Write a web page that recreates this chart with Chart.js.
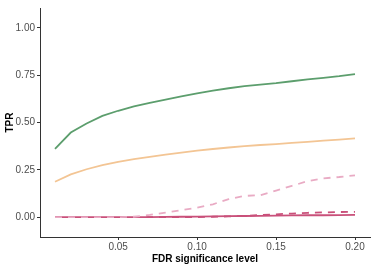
<!DOCTYPE html>
<html>
<head>
<meta charset="utf-8">
<script src="https://cdn.jsdelivr.net/npm/chart.js@4"></script>
<style>
  html, body { margin: 0; padding: 0; background: #fff; }
  #wrap { width: 374px; height: 267px; }
</style>
</head>
<body>
<div id="wrap"><canvas id="tprChart" width="374" height="267"></canvas></div>
<script>
// FDR levels on the x axis
const fdrLevels = [0.01, 0.02, 0.03, 0.04, 0.05, 0.06, 0.07, 0.08, 0.09, 0.10,
                   0.11, 0.12, 0.13, 0.14, 0.15, 0.16, 0.17, 0.18, 0.19, 0.20];

// TPR per method
const tprGreen = [0.361, 0.447, 0.495, 0.535, 0.562, 0.585, 0.604, 0.621, 0.638, 0.654,
                  0.668, 0.681, 0.692, 0.700, 0.708, 0.718, 0.728, 0.736, 0.745, 0.756];
const tprOrange = [0.187, 0.226, 0.253, 0.275, 0.292, 0.306, 0.318, 0.330, 0.341, 0.351,
                   0.360, 0.368, 0.375, 0.381, 0.386, 0.392, 0.398, 0.404, 0.410, 0.416];
const tprPinkDashed = [0, 0, 0, 0, 0, 0.002, 0.012, 0.024, 0.037, 0.050,
                       0.068, 0.095, 0.112, 0.116, 0.140, 0.165, 0.190, 0.205, 0.212, 0.221];
const tprRedDashed = [0, 0, 0, 0, 0, 0, 0, 0, 0, 0,
                      0.002, 0.004, 0.007, 0.011, 0.015, 0.019, 0.023, 0.025, 0.027, 0.028];
const tprRedSolid = [0, 0, 0, 0, 0, 0, 0, 0.001, 0.002, 0.003,
                     0.004, 0.005, 0.006, 0.007, 0.008, 0.009, 0.010, 0.010, 0.011, 0.012];

const xTicks = [0.05, 0.10, 0.15, 0.20];
const yTicks = [0, 0.25, 0.5, 0.75, 1];

function pts(ys) {
    return ys.map((y, i) => ({ x: fdrLevels[i], y: y }));
}

function series(ys, color, dash) {
    return {
        data: pts(ys),
        borderColor: color,
        borderWidth: 1.8,
        borderDash: dash || [],
        pointRadius: 0,
        tension: 0,
        fill: false
    };
}

const tickFont = { family: 'Liberation Sans, Arial, sans-serif', size: 10 };
const titleFont = { family: 'Liberation Sans, Arial, sans-serif', size: 10, weight: 'bold' };

new Chart(document.getElementById('tprChart').getContext('2d'), {
    type: 'line',
    data: {
        datasets: [
            series(tprPinkDashed, '#e9abc4', [7, 6]),
            series(tprRedSolid, '#c9507a'),
            series(tprRedDashed, '#c9507a', [7, 6]),
            series(tprOrange, '#f3c594'),
            series(tprGreen, '#5c9e6d')
        ]
    },
    options: {
        responsive: false,
        animation: false,
        layout: { padding: { left: 4, right: 4, top: 4, bottom: 0 } },
        plugins: {
            legend: { display: false },
            tooltip: { enabled: false }
        },
        scales: {
            x: {
                type: 'linear',
                min: 0.0005,
                max: 0.2095,
                afterBuildTicks: function(scale) {
                    scale.ticks = xTicks.map(v => ({ value: v }));
                },
                afterFit: function(scale) { scale.height = 30; },
                ticks: {
                    font: tickFont,
                    color: '#4d4d4d',
                    padding: 1,
                    maxRotation: 0,
                    callback: v => v.toFixed(2)
                },
                grid: { drawOnChartArea: false, tickLength: 3, color: '#333' },
                border: { display: true, color: '#333', width: 1 },
                title: {
                    display: true,
                    text: 'FDR significance level',
                    font: titleFont,
                    color: '#000',
                    padding: { top: 0, bottom: 2 }
                }
            },
            y: {
                min: -0.105,
                max: 1.105,
                afterBuildTicks: function(scale) {
                    scale.ticks = yTicks.map(v => ({ value: v }));
                },
                afterFit: function(scale) { scale.width = 36; },
                ticks: {
                    font: tickFont,
                    color: '#4d4d4d',
                    padding: 2,
                    callback: v => v.toFixed(2)
                },
                grid: { drawOnChartArea: false, tickLength: 3, color: '#333' },
                border: { display: true, color: '#333', width: 1 },
                title: {
                    display: true,
                    text: 'TPR',
                    font: titleFont,
                    color: '#000',
                    padding: { top: 0, bottom: 0 }
                }
            }
        }
    }
});
</script>
</body>
</html>
